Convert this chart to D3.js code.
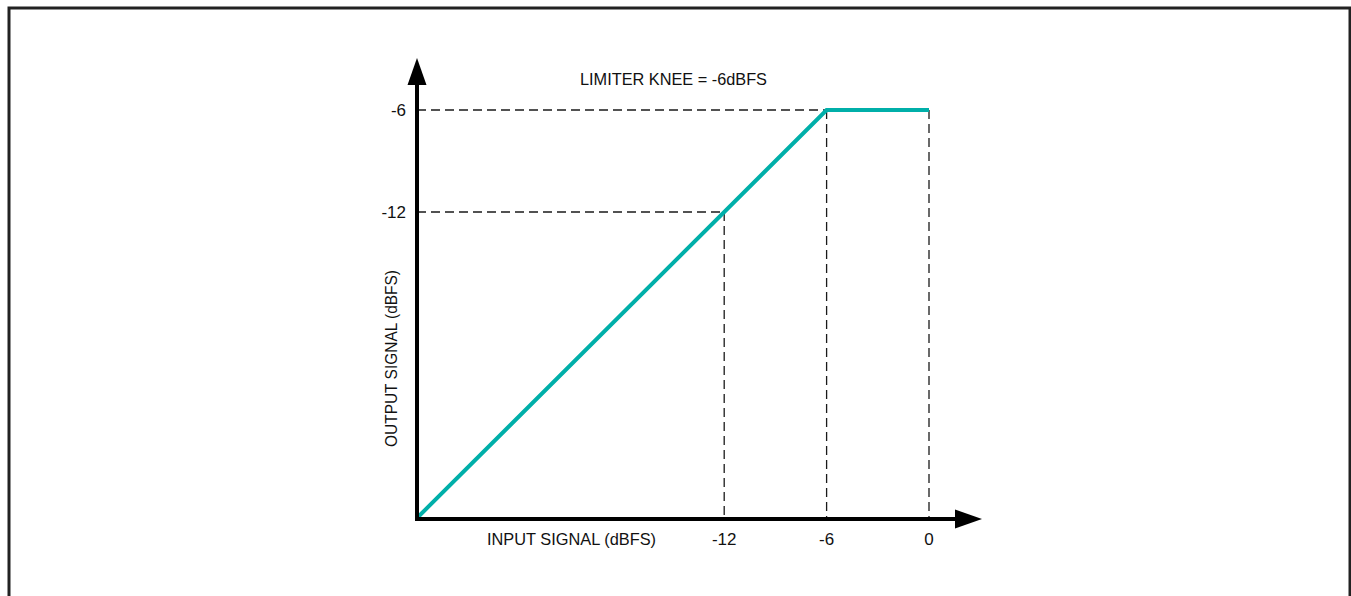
<!DOCTYPE html>
<html>
<head>
<meta charset="utf-8">
<script src="https://cdn.jsdelivr.net/npm/d3@7"></script>
<style>
  html, body { margin: 0; padding: 0; background: #fff; }
  svg { display: block; }
  text { font-family: "Liberation Sans", Arial, sans-serif; fill: #111; }
</style>
</head>
<body>
<svg id="chart" width="1351" height="596"></svg>
<script>
// ---- data ----
const inputDb = [-30, -6, 0];
const outputDb = [-30, -6, -6];
const xTickValues = [-12, -6, 0];
const xTickLabels = ["-12", "-6", "0"];
const yTickValues = [-6, -12];
const yTickLabels = ["-6", "-12"];
const guideInputs = [-12, -6, 0];   // vertical dashed guides
const guideOutputs = [-12, -6];     // horizontal dashed guides
const titleText = "LIMITER KNEE = -6dBFS";
const xLabelText = "INPUT SIGNAL (dBFS)";
const yLabelText = "OUTPUT SIGNAL (dBFS)";

const svg = d3.select("#chart");

// frame
svg.append("rect").attr("x", 9).attr("y", 8).attr("width", 1341).attr("height", 620)
  .attr("fill", "none").attr("stroke", "#222").attr("stroke-width", 3);

const x = d3.scaleLinear().domain([-30, 0]).range([417, 929]);
const y = d3.scaleLinear().domain([-30, 0]).range([518, 8]);
const transfer = v => Math.min(v, -6);

// dashed guides
const g = svg.append("g").attr("stroke", "#1a1a1a").attr("stroke-width", 1.3)
  .attr("stroke-dasharray", "9,5").attr("fill", "none");
guideOutputs.forEach(v => {
  g.append("line").attr("x1", x(-30)).attr("x2", x(v)).attr("y1", y(v)).attr("y2", y(v));
});
guideInputs.forEach(v => {
  g.append("line").attr("x1", x(v)).attr("x2", x(v)).attr("y1", y(transfer(v))).attr("y2", y(-30));
});

// transfer curve
const pts = inputDb.map((d, i) => [d, outputDb[i]]);
svg.append("path").datum(pts)
  .attr("d", d3.line().x(d => x(d[0])).y(d => y(d[1])))
  .attr("fill", "none").attr("stroke", "#00AFA9").attr("stroke-width", 4)
  .attr("stroke-linejoin", "miter");

// axes with arrowheads
const ox = x(-30), oy = y(-30) + 1;
svg.append("line").attr("x1", ox).attr("x2", ox).attr("y1", oy + 2).attr("y2", 84)
  .attr("stroke", "#000").attr("stroke-width", 4);
svg.append("path").attr("d", `M${ox},58 L${ox - 9.5},85 L${ox + 9.5},85 Z`).attr("fill", "#000");
svg.append("line").attr("x1", ox - 2).attr("x2", 956).attr("y1", oy).attr("y2", oy)
  .attr("stroke", "#000").attr("stroke-width", 4);
svg.append("path").attr("d", `M982,${oy} L955,${oy - 9.5} L955,${oy + 9.5} Z`).attr("fill", "#000");

// tick labels
svg.selectAll(".xt").data(xTickValues).enter().append("text")
  .attr("x", d => x(d)).attr("y", 545).attr("text-anchor", "middle")
  .attr("font-size", 17).text((d, i) => xTickLabels[i]);
svg.selectAll(".yt").data(yTickValues).enter().append("text")
  .attr("x", 406).attr("y", d => y(d) + 6).attr("text-anchor", "end")
  .attr("font-size", 17).text((d, i) => yTickLabels[i]);

// labels
svg.append("text").attr("x", 580).attr("y", 85).attr("font-size", 17)
  .attr("textLength", 187).attr("lengthAdjust", "spacingAndGlyphs").text(titleText);
svg.append("text").attr("x", 487).attr("y", 545)
  .attr("font-size", 17).attr("textLength", 169).attr("lengthAdjust", "spacingAndGlyphs").text(xLabelText);
svg.append("text").attr("transform", "translate(397,447) rotate(-90)")
  .attr("font-size", 17).attr("textLength", 177).attr("lengthAdjust", "spacingAndGlyphs").text(yLabelText);
</script>
</body>
</html>
